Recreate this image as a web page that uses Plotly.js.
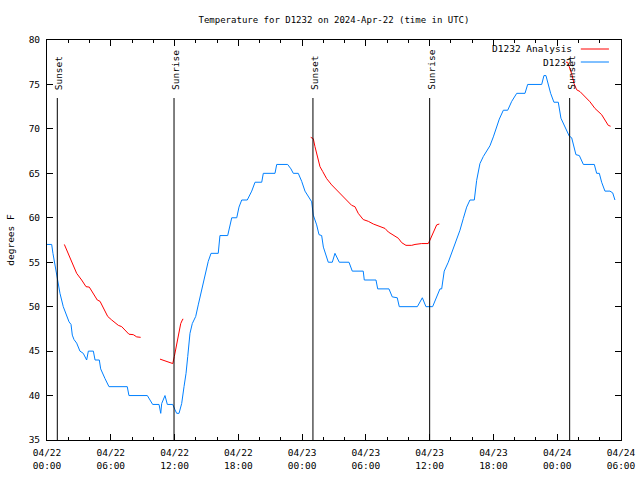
<!DOCTYPE html>
<html><head><meta charset="utf-8">
<script src="https://cdn.plot.ly/plotly-3.0.1.min.js"></script>
<style>html,body{margin:0;padding:0;background:#fff}</style>
</head><body><div id="chart" style="width:640px;height:480px"></div>
<script>
// Observed temperature (hours since 04/22 00:00 UTC, degrees F)
const obsHours = [0.00,0.44,0.56,0.94,1.22,1.53,1.85,2.07,2.26,2.38,2.54,2.79,3.10,3.41,3.73,3.89,4.36,4.52,4.92,5.05,5.46,5.83,7.55,7.71,9.44,9.69,9.94,10.54,10.70,10.79,11.10,11.32,11.83,12.04,12.20,12.42,12.67,12.89,13.08,13.24,13.45,13.67,13.99,14.23,14.55,14.86,15.17,15.43,16.11,16.27,17.00,17.38,17.85,18.06,18.32,18.84,19.26,19.57,20.20,20.35,21.45,21.61,22.64,22.95,23.17,23.64,23.96,24.27,24.68,24.90,25.05,25.37,25.59,25.84,26.00,26.22,26.46,26.84,27.09,27.50,28.41,28.72,29.75,29.85,30.95,31.11,32.17,32.48,32.95,33.14,34.84,35.31,35.65,36.28,36.66,36.97,37.13,37.37,37.75,38.07,38.38,38.85,39.16,39.48,39.79,40.20,40.42,40.73,41.05,41.42,41.67,41.99,42.31,42.55,42.93,43.34,43.72,44.19,44.97,45.22,46.54,46.75,46.94,47.16,47.38,47.69,48.10,48.35,48.73,49.13,49.36,49.58,49.76,50.08,50.46,51.49,51.71,51.96,52.18,52.49,52.96,53.22,53.43];
const obsTemps = [57,57,56,53.4,51.5,50,48.9,48.3,48,46.8,46.3,45.9,45,44.75,44,45,45,44,44,43,41.9,41,41,40,40,39.5,39,39,38,39.1,40,39,39,38.4,38,38,39.1,41,42.5,44.4,47,48.1,48.9,50.2,51.9,53.4,55.1,56,56,58,58,60,60,61.2,62,62,63,64,64,65,65,66,66,65.5,65,65,64.1,63,62.2,61.8,60.3,59.2,58.1,58,56.7,56,55,55,56,55,55,54,54,53,53,52,52,51.1,51,50,50,51,50,50,51,52,52,54,55,56,57.1,58.6,59.9,61.2,62,62,64.2,66.1,66.9,67.6,68.1,69.1,70.2,71.1,72.1,72.1,73.1,74,74,75,75,76,76,75,74,73,73,71.2,70.2,69.2,69,68.1,67.1,67,66,66,65,65,64,63,63,62.8,62];

// Analysis temperature (null = gap between runs)
const anaHours = [1.63,1.85,2.16,2.47,2.79,3.26,3.67,3.98,4.36,4.73,4.99,5.30,5.71,6.09,6.71,7.03,7.34,7.71,8.12,8.44,8.81,null,
  10.63,11.10,11.51,11.83,11.98,12.14,12.35,12.58,12.77,12.82,null,
  24.81,25.05,25.21,25.43,25.68,25.94,26.31,26.78,27.25,27.72,28.19,28.66,28.97,29.28,29.75,30.23,30.70,31.17,31.80,32.11,32.74,33.05,33.37,33.77,34.31,34.62,35.25,35.87,36.03,36.34,36.66,36.91,null,
  48.82,48.98,49.13,49.36,49.58,49.83,50.14,50.61,51.08,51.55,51.86,52.18,52.49,52.80,53.02];
const anaTemps = [57,56.4,55.4,54.5,53.75,53,52.25,52.2,51.4,50.75,50.6,49.8,48.9,48.5,47.9,47.75,47.4,46.9,46.85,46.6,46.55,null,
  44.1,43.9,43.7,43.6,44.4,45.5,46.6,48.1,48.6,48.6,null,
  69.05,68.9,68,66.9,65.75,65.2,64.4,63.7,63.1,62.6,62,61.4,61.25,60.5,59.8,59.6,59.3,59.1,58.8,58.4,57.9,57.7,57.2,56.9,56.9,57,57.1,57.1,57.5,58.25,59.2,59.3,null,
  77.5,77.5,77,76.2,75.1,74.4,74.2,73.6,73.05,72.3,71.9,71.6,71,70.4,70.3];

// Sunrise / sunset events
const eventHours = [0.97, 11.95, 25.02, 36.0, 49.17];
const eventLabels = ['Sunset', 'Sunrise', 'Sunset', 'Sunrise', 'Sunset'];

// Axis ticks
const xTickHours = [0,6,12,18,24,30,36,42,48,54];
const xTickLabels = ['04/22<br>00:00','04/22<br>06:00','04/22<br>12:00','04/22<br>18:00','04/23<br>00:00','04/23<br>06:00','04/23<br>12:00','04/23<br>18:00','04/24<br>00:00','04/24<br>06:00'];
const yTicks = [35,40,45,50,55,60,65,70,75,80];

const seriesNames = ['D1232 Analysis', 'D1232'];
const seriesColors = ['#ff0000', '#0080ff'];

const FONT = 'DejaVu Sans Mono, monospace';

const traces = [
  {x: anaHours, y: anaTemps, type: 'scatter', mode: 'lines', name: seriesNames[0],
   line: {color: seriesColors[0], width: 1}, connectgaps: false, showlegend: false},
  {x: obsHours, y: obsTemps, type: 'scatter', mode: 'lines', name: seriesNames[1],
   line: {color: seriesColors[1], width: 1}, showlegend: false}
];

const shapes = eventHours.map(h => ({
  type: 'line', xref: 'x', yref: 'paper', x0: h, x1: h, y0: 0, y1: 0.855,
  line: {color: '#000', width: 1}
}));
const annotations = eventHours.map((h, i) => ({
  x: h, xref: 'x', y: 0.87, yref: 'paper', text: eventLabels[i], textangle: -90,
  showarrow: false, xanchor: 'center', yanchor: 'bottom', xshift: 1,
  font: {family: FONT, size: 9.5, color: '#000'}
}));

// custom gnuplot-style key (text left, sample right)
const keyRows = [0.9775, 0.945];
seriesNames.forEach((n, i) => {
  annotations.push({x: 0.918, xref: 'paper', y: keyRows[i], yref: 'paper', text: n,
    showarrow: false, xanchor: 'right', yanchor: 'middle',
    font: {family: FONT, size: 9.5, color: '#000'}});
  shapes.push({type: 'line', xref: 'paper', yref: 'paper', x0: 0.930, x1: 0.979,
    y0: keyRows[i], y1: keyRows[i], line: {color: seriesColors[i], width: 1}});
});

const axisCommon = {
  showline: true, linecolor: '#000', linewidth: 1, mirror: 'ticks',
  ticks: 'inside', ticklen: 6, tickcolor: '#000', tickwidth: 1,
  showgrid: false, zeroline: false,
  tickfont: {family: FONT, size: 9.5, color: '#000'}
};

const layout = {
  width: 640, height: 480,
  margin: {l: 47, r: 19, t: 40, b: 40},
  paper_bgcolor: '#fff', plot_bgcolor: '#fff',
  title: {text: 'Temperature for D1232 on 2024-Apr-22 (time in UTC)',
    font: {family: FONT, size: 9, color: '#000'}, x: 0.5, xref: 'paper', y: 0.958, yanchor: 'middle'},
  xaxis: Object.assign({}, axisCommon, {
    type: 'linear', range: [0, 54], tickmode: 'array', tickvals: xTickHours, ticktext: xTickLabels,
    ticklabelstandoff: 4,
    minor: {tickmode: 'linear', tick0: 0, dtick: 2, ticklen: 3, ticks: 'inside', tickcolor: '#000', showgrid: false}
  }),
  yaxis: Object.assign({}, axisCommon, {
    range: [35, 80], tickmode: 'array', tickvals: yTicks,
    ticklabelstandoff: 4,
    title: {text: 'degrees F', font: {family: FONT, size: 9.5, color: '#000'}, standoff: 12}
  }),
  shapes: shapes,
  annotations: annotations,
  showlegend: false
};

Plotly.newPlot('chart', traces, layout, {staticPlot: true, displayModeBar: false});
</script>
</body></html>
